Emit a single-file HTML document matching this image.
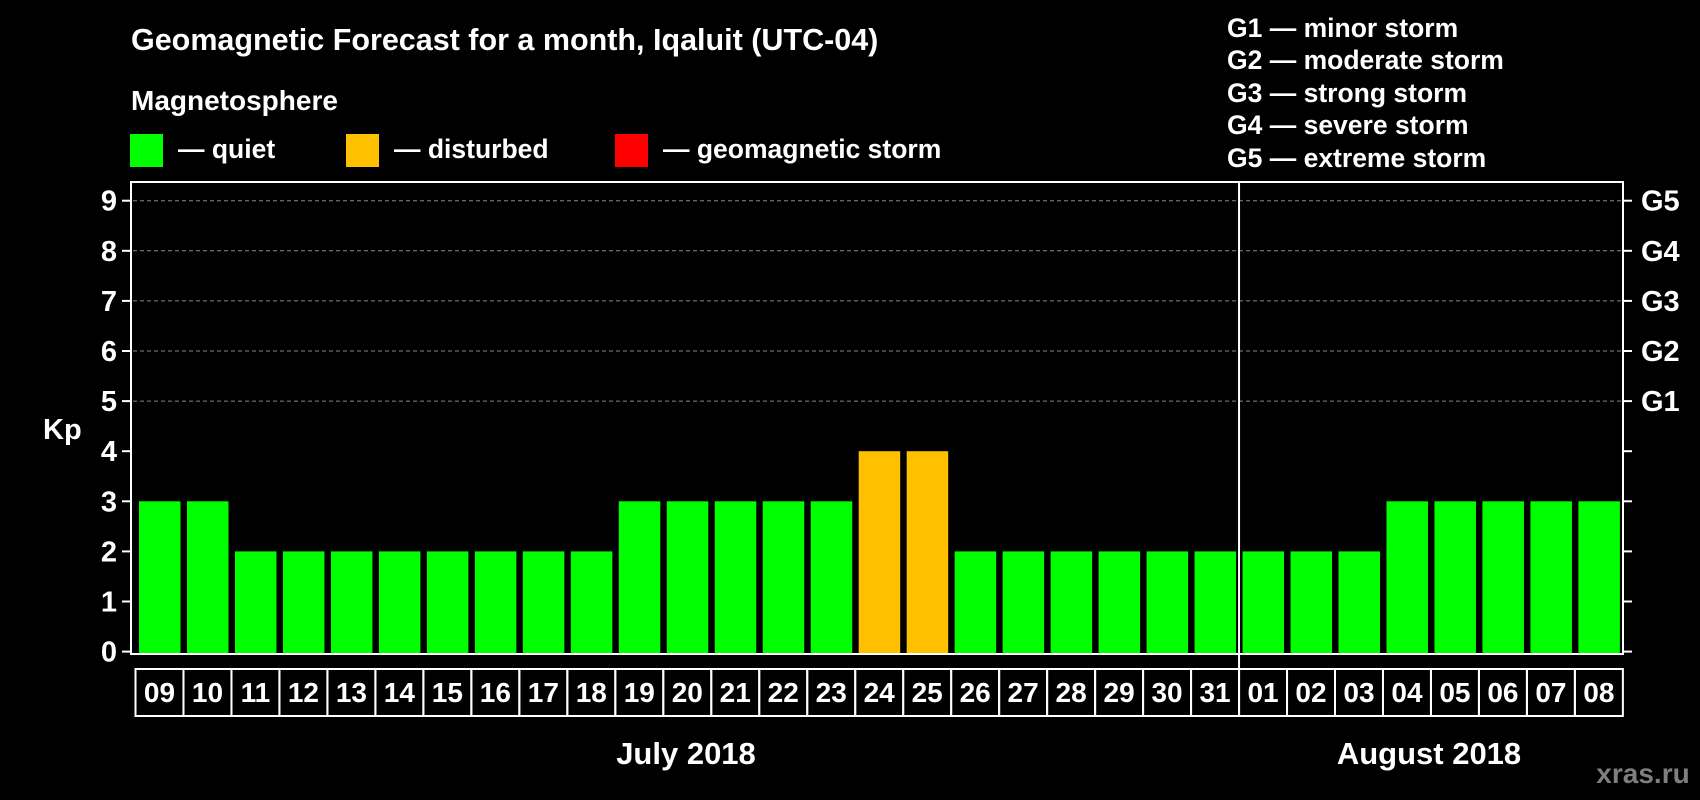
<!DOCTYPE html>
<html><head><meta charset="utf-8"><style>
html,body{margin:0;padding:0;background:#000;width:1700px;height:800px;overflow:hidden}
svg text{font-family:"Liberation Sans",Arial,sans-serif;font-weight:bold;fill:#fff}
</style></head><body>
<svg id="chart" width="1700" height="800" xmlns="http://www.w3.org/2000/svg">
<text x="131" y="50" font-size="30.5">Geomagnetic Forecast for a month, Iqaluit (UTC-04)</text>
<text x="131" y="110" font-size="28">Magnetosphere</text>
<rect x="130" y="134" width="33" height="33" fill="#00ff00"/>
<text x="178" y="158" font-size="26.5">— quiet</text>
<rect x="346" y="134" width="33" height="33" fill="#ffc000"/>
<text x="394" y="158" font-size="26.5">— disturbed</text>
<rect x="615" y="134" width="33" height="33" fill="#ff0000"/>
<text x="663" y="158" font-size="26.5">— geomagnetic storm</text>
<g font-size="26.5">
<text x="1227" y="37">G1 — minor storm</text>
<text x="1227" y="69">G2 — moderate storm</text>
<text x="1227" y="102">G3 — strong storm</text>
<text x="1227" y="134">G4 — severe storm</text>
<text x="1227" y="167">G5 — extreme storm</text>
</g>
<text x="43" y="439" font-size="29">Kp</text>
<g id="grid"></g><g id="bars"></g><g id="axes"></g>
<text x="686" y="764" font-size="31" text-anchor="middle">July 2018</text>
<text x="1429" y="764" font-size="31" text-anchor="middle">August 2018</text>
<text x="1643" y="783" font-size="28" text-anchor="middle" style="fill:#7f7f7f">xras.ru</text>
</svg>
<script>
const days=["09","10","11","12","13","14","15","16","17","18","19","20","21","22","23","24","25","26","27","28","29","30","31","01","02","03","04","05","06","07","08"];
const kp=[3,3,2,2,2,2,2,2,2,2,3,3,3,3,3,4,4,2,2,2,2,2,2,2,2,2,3,3,3,3,3];
const yTicks=[0,1,2,3,4,5,6,7,8,9];
const gLabels=["G1","G2","G3","G4","G5"];
const NS="http://www.w3.org/2000/svg";
const X0=135.5,STEP=47.98,Y0=651.6,UNIT=50.1,LEFT=131,RIGHT=1623,TOP=182,BOT=654;
const xs=i=>X0+i*STEP, ys=v=>Y0-v*UNIT;
function mk(t,a,p){const e=document.createElementNS(NS,t);for(const k in a)e.setAttribute(k,a[k]);p.appendChild(e);return e;}
const grid=document.getElementById('grid'),bars=document.getElementById('bars'),axes=document.getElementById('axes');
yTicks.forEach(v=>{
 if(v>=5){const l=mk('line',{x1:LEFT+2,x2:RIGHT,y1:ys(v),y2:ys(v),stroke:'#888','stroke-width':1,'stroke-dasharray':'4,3'},grid);
 
 }
 const t1=mk('line',{x1:LEFT-9,x2:LEFT,y1:ys(v),y2:ys(v),stroke:'#fff','stroke-width':2},axes);
 
 
 mk('line',{x1:RIGHT,x2:RIGHT+9,y1:ys(v),y2:ys(v),stroke:'#fff','stroke-width':2},axes);
 const tx=mk('text',{x:117,y:ys(v)+10,'font-size':29,'text-anchor':'end'},axes);tx.textContent=v;
 
 
});
gLabels.forEach((g,i)=>{const t=mk('text',{x:1641,y:ys(5+i)+10,'font-size':29},axes);t.textContent=g;
 
 });
kp.forEach((v,i)=>{
 const c=v>=5?'#ff0000':(v>=4?'#ffc000':'#00ff00');
 const r=mk('rect',{x:xs(i)+3.5,y:ys(v),width:41.5,height:BOT-1-ys(v),fill:c},bars);
 
 
 const b=mk('rect',{x:xs(i),y:669,width:STEP,height:47,fill:'none',stroke:'#fff','stroke-width':2},axes);
 
 
 const t=mk('text',{x:xs(i)+STEP/2,y:702,'font-size':28,'text-anchor':'middle'},axes);t.textContent=days[i];
 
 
});
const f=mk('rect',{x:LEFT,y:TOP,width:RIGHT-LEFT,height:BOT-TOP,fill:'none',stroke:'#fff','stroke-width':2},axes);


const d=mk('line',{x1:xs(23),x2:xs(23),y1:TOP,y2:716,stroke:'#fff','stroke-width':2},axes);


</script>
</body></html>
